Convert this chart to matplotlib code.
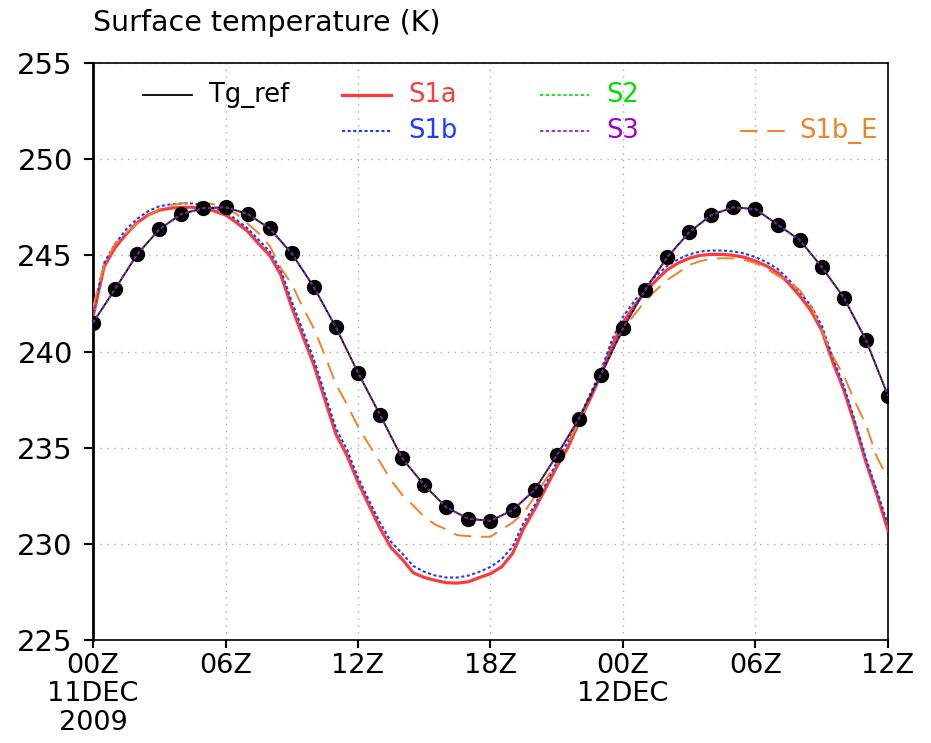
import numpy as np
import matplotlib
matplotlib.use("Agg")
import matplotlib.pyplot as plt

# hourly reference surface temperature (K), 00Z 11DEC - 12Z 12DEC 2009
hours_ref = np.arange(0, 37, 1)
tg_ref = [241.5, 243.25, 245.05, 246.35, 247.15, 247.45, 247.5, 247.15, 246.4, 245.1,
          243.35, 241.25, 238.9, 236.7, 234.45, 233.05, 231.9, 231.3, 231.2, 231.75,
          232.8, 234.6, 236.5, 238.8, 241.2, 243.2, 244.9, 246.2, 247.1, 247.5,
          247.4, 246.6, 245.8, 244.4, 242.8, 240.6, 237.7]
s2 = tg_ref
s3 = tg_ref

# model runs, half-hourly output
hours_mod = np.arange(0, 36.5, 0.5)
s1a = [241.8, 244.4, 245.4, 246.1, 246.7, 247.1, 247.35, 247.45, 247.5, 247.5,
       247.45, 247.3, 247.1, 246.7, 246.25, 245.6, 245.0, 244.0, 242.3, 240.8,
       239.3, 237.5, 235.7, 234.6, 233.2, 232.0, 230.8, 229.8, 229.2, 228.5,
       228.25, 228.1, 227.98, 227.96, 228.03, 228.25, 228.45, 228.8, 229.5, 230.8,
       231.8, 232.9, 234.0, 235.0, 236.3, 237.5, 238.8, 240.3, 241.5, 242.35,
       243.1, 243.7, 244.25, 244.6, 244.85, 245.0, 245.05, 245.05, 245.0, 244.9,
       244.7, 244.45, 244.1, 243.55, 242.9, 242.15, 241.1, 239.45, 238.0, 236.2,
       234.25, 232.55, 230.7]
s1b = [242.0, 244.6, 245.6, 246.35, 246.9, 247.3, 247.55, 247.65, 247.7, 247.7,
       247.6, 247.45, 247.25, 246.85, 246.4, 245.8, 245.2, 244.25, 242.6, 241.1,
       239.6, 237.8, 236.0, 234.9, 233.45, 232.25, 231.1, 230.1, 229.5, 228.85,
       228.55, 228.35, 228.25, 228.25, 228.35, 228.55, 228.8, 229.2, 229.85, 231.1,
       232.0, 233.1, 234.25, 235.3, 236.5, 237.75, 239.0, 240.6, 241.8, 242.6,
       243.35, 243.95, 244.45, 244.8, 245.05, 245.2, 245.25, 245.25, 245.2, 245.1,
       244.9, 244.65, 244.3, 243.75, 243.1, 242.4, 241.35, 239.7, 238.2, 236.4,
       234.45, 232.75, 231.0]
s1b_e = [242.3, 244.5, 245.6, 246.15, 246.65, 247.05, 247.4, 247.6, 247.7, 247.75,
         247.75, 247.65, 247.45, 247.15, 246.65, 246.15, 245.5, 244.35, 243.5, 242.3,
         241.2, 239.8, 238.3, 237.25, 236.1, 235.15, 234.25, 233.3, 232.55, 232.0,
         231.4, 231.0, 230.75, 230.45, 230.4, 230.37, 230.37, 230.75, 231.1, 231.6,
         232.45, 233.35, 234.2, 235.25, 236.3, 237.6, 238.75, 239.95, 241.1, 241.9,
         242.6, 243.2, 243.72, 244.1, 244.5, 244.7, 244.82, 244.85, 244.84, 244.75,
         244.6, 244.3, 243.95, 243.65, 243.2, 242.4, 241.1, 239.75, 238.75, 237.4,
         236.2, 234.5, 233.4]

xticks = [0, 6, 12, 18, 24, 30, 36]
xticklabels = ["00Z\n11DEC\n2009", "06Z", "12Z", "18Z", "00Z\n12DEC", "06Z", "12Z"]
yticks = [225, 230, 235, 240, 245, 250, 255]

c_red = "#fa3c3c"
c_blue = "#1e3cff"
c_green = "#00dc00"
c_purple = "#a000c8"
c_orange = "#f08228"

fig = plt.figure(figsize=(9.31, 7.43), dpi=100)
ax = fig.add_axes([0.0999, 0.1386, 0.8539, 0.7766])

ax.plot(hours_mod, s1a, color=c_red, lw=2.3, zorder=3)
ax.plot(hours_mod, s1b, color=c_blue, lw=1.5, ls=(0, (1.5, 1.2)), zorder=4)
ax.plot(hours_mod, s1b_e, color=c_orange, lw=1.4, ls=(0, (9, 5)), zorder=4)
ax.plot(hours_ref, tg_ref, color="black", lw=1.3, marker="o", ms=10, zorder=5)
ax.plot(hours_ref, s2, color=c_green, lw=1.2, ls=(0, (2, 1.5)), zorder=6)
ax.plot(hours_ref, s3, color=c_purple, lw=1.2, ls=(0, (2, 1.5)), zorder=7)

ax.set_xlim(0, 36)
ax.set_ylim(225, 255)
ax.set_xticks(xticks)
ax.set_xticklabels(xticklabels, fontsize=19.5, linespacing=1.13)
ax.set_yticks(yticks)
ax.set_yticklabels([str(v) for v in yticks], fontsize=21)
ax.tick_params(axis="x", direction="out", length=6, width=1.5, pad=3)
ax.tick_params(axis="y", direction="out", length=6.5, width=1.5, pad=8)
ax.grid(True, color="#aaaaaa", ls=(0, (1, 4)), lw=1)
for side in ax.spines:
    ax.spines[side].set_linewidth(1.2)
ax.spines["left"].set_linewidth(2)

fig.text(0.0999, 0.969, "Surface temperature (K)", fontsize=20.5, va="center", ha="left")

# legend in two rows, drawn in axes coordinates
legend_items = [
    ("Tg_ref", "black", "-", 1.3, 0.063, 0.9445),
    ("S1a", c_red, "-", 2.3, 0.313, 0.9445),
    ("S2", c_green, (0, (2, 1.5)), 1.2, 0.562, 0.9445),
    ("S1b", c_blue, (0, (1.5, 1.2)), 1.5, 0.313, 0.882),
    ("S3", c_purple, (0, (2, 1.5)), 1.2, 0.562, 0.882),
    ("S1b_E", c_orange, (0, (9, 5)), 1.4, 0.814, 0.882),
]
for label, col, style, lw, x0, y0 in legend_items:
    ax.plot([x0, x0 + 0.062], [y0, y0], color=col, ls=style, lw=lw,
            transform=ax.transAxes, zorder=8)
    dx = 0.075 if label == "S1b_E" else 0.083
    ax.text(x0 + dx, y0, label, color=col,
            fontsize=18.5, va="center", ha="left", transform=ax.transAxes)

fig.savefig("out.png", dpi=100)
